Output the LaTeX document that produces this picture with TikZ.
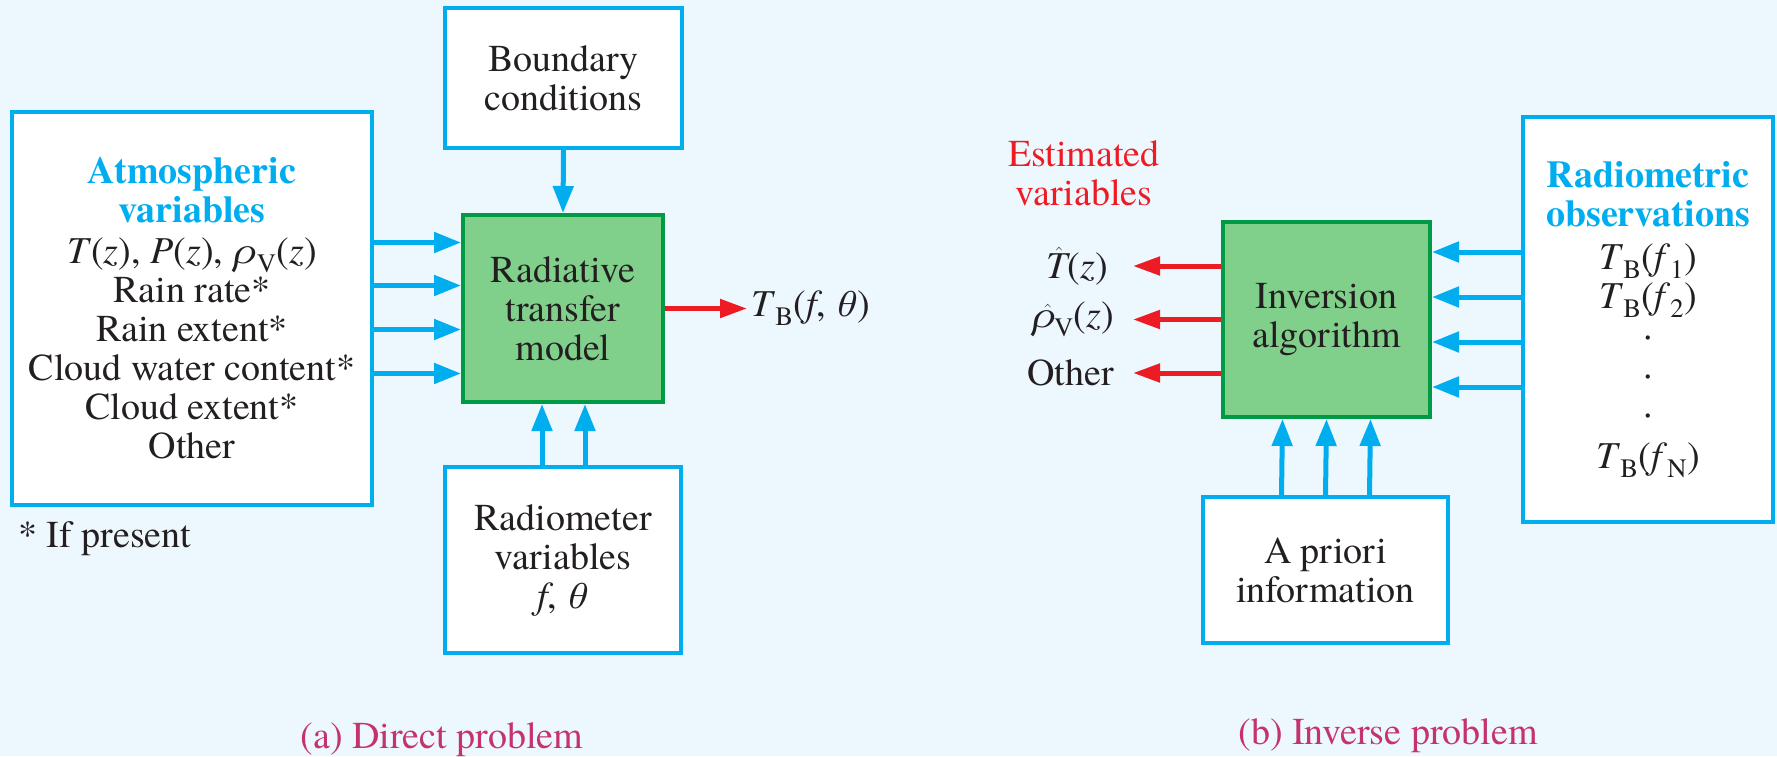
\documentclass[tikz,border=0pt]{standalone}
\usepackage{fontspec}
\setmainfont{texgyretermes}[Extension=.otf, UprightFont=*-regular, BoldFont=*-bold, ItalicFont=*-italic, BoldItalicFont=*-bolditalic]
\usepackage{tikz}
\usetikzlibrary{arrows.meta,positioning}
\definecolor{bgblue}{HTML}{EDF7FE}
\definecolor{skyblue}{HTML}{00AEEF}
\definecolor{modelfill}{HTML}{80D08C}
\definecolor{modeledge}{HTML}{009A44}
\definecolor{outred}{HTML}{ED1C24}
\definecolor{captioncol}{HTML}{C4336A}
\definecolor{inktext}{HTML}{231F20}

\begin{document}
\begin{tikzpicture}[
  x=1pt, y=-1pt,
  font=\fontsize{38}{39}\selectfont, text=inktext,
  inbox/.style={draw=skyblue, line width=4pt, fill=white, align=center, inner sep=0pt},
  modelbox/.style={draw=modeledge, line width=4pt, fill=modelfill, align=center, inner sep=0pt},
  bluearrow/.style={line width=5pt, skyblue, -{Triangle[length=27pt,width=20pt]}},
  redarrow/.style={line width=5pt, outred, -{Triangle[length=27pt,width=18pt]}},
  estlabel/.style={anchor=east, inner sep=2pt},
  caption/.style={text=captioncol},
]
  \useasboundingbox[fill=bgblue] (0,0) rectangle (1777,756);

  % (a) direct problem
  \node[inbox, minimum width=360pt, minimum height=393pt] (atm) at (192,308.5)
    {\textcolor{skyblue}{\textbf{Atmospheric}}\\ \textcolor{skyblue}{\textbf{variables}}\\[2pt]
     \textit{T}(\textit{z}), \textit{P}(\textit{z}), \textit{ρ}\textsubscript{V}(\textit{z})\\
     Rain rate*\\ Rain extent*\\ Cloud water content*\\ Cloud extent*\\ Other};
  \node[anchor=west, inner sep=2pt] (note) at (16,539) {* If present};
  \node[modelbox, minimum width=200pt, minimum height=187pt] (rtm) at (563,308.5)
    {Radiative\\ transfer\\ model};
  \node[inbox, minimum width=237pt, minimum height=140pt] (bc) at (563.5,78)
    {Boundary\\ conditions};
  \node[inbox, minimum width=236pt, minimum height=186pt] (rv) at (563,560)
    {Radiometer\\ variables\\ \textit{f}, \textit{θ}};
  \node[right=82pt of rtm, inner sep=4pt] (tb)
    {\textit{T}\textsubscript{B}(\textit{f}, \textit{θ})};
  \node[caption] (capa) at (442,740) {(a) Direct problem};

  \foreach \s in {66,23,-21,-65}
    \draw[bluearrow] ([yshift=\s pt]atm.east) -- ([yshift=\s pt]rtm.west);
  \draw[bluearrow] (bc.south) -- (rtm.north);
  \foreach \s in {-21,22}
    \draw[bluearrow] ([xshift=\s pt]rv.north) -- ([xshift=\s pt]rtm.south);
  \draw[redarrow] (rtm.east) -- (tb.west);

  % (b) inverse problem
  \node[modelbox, minimum width=207pt, minimum height=195pt] (inv) at (1326.5,319.5)
    {Inversion\\ algorithm};
  \node[inbox, minimum width=250pt, minimum height=405pt] (obs) at (1648,319.5)
    {\textcolor{skyblue}{\textbf{Radiometric}}\\ \textcolor{skyblue}{\textbf{observations}}\\[4pt]
     \textit{T}\textsubscript{B}(\textit{f}\textsubscript{1})\\
     \textit{T}\textsubscript{B}(\textit{f}\textsubscript{2})\\
     ·\\ ·\\ ·\\[4pt]
     \textit{T}\textsubscript{B}(\textit{f}\textsubscript{N})};
  \node[inbox, minimum width=245pt, minimum height=146pt] (apr) at (1325.5,570)
    {A priori\\ information};
  \node[align=center, text=outred] (est) at (1084,173) {Estimated\\ variables};
  \node[estlabel] (t1) at (1110,266) {$\hat{\mbox{\itshape T\kern4pt}}\kern-4pt$(\textit{z})};
  \node[estlabel] (t2) at (1116,319.5) {$\hat{\mbox{\itshape ρ\kern10pt}}\kern-10pt$\textsubscript{V}(\textit{z})};
  \node[estlabel] (t3) at (1116,373) {Other};
  \node[caption] (capb) at (1388,736) {(b) Inverse problem};

  \foreach \s in {67.5,22.5,-22.5,-67.5}
    \draw[bluearrow] ([yshift=\s pt]obs.west) -- ([yshift=\s pt]inv.east);
  \foreach \s in {-44,0,44}
    \draw[bluearrow] ([xshift=\s pt]apr.north) -- ([xshift=\s pt]inv.south);
  \draw[redarrow] (inv.west |- t1) -- ([xshift=23pt]t1.east);
  \draw[redarrow] (inv.west |- t2) -- ([xshift=17pt]t2.east);
  \draw[redarrow] (inv.west |- t3) -- ([xshift=17pt]t3.east);
\end{tikzpicture}
\end{document}
